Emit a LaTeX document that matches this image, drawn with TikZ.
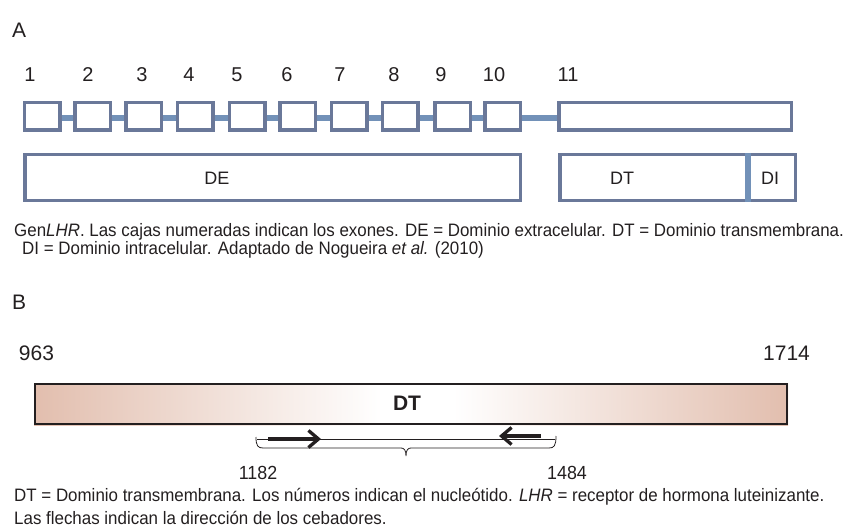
\documentclass[tikz,border=0pt]{standalone}
\usepackage{fontspec}
\setmainfont{Liberation Sans}
\newfontfamily\narrowfont[FakeStretch=0.94]{Liberation Sans}
\usetikzlibrary{arrows.meta,backgrounds}

\definecolor{exonedge}{HTML}{6A7899}
\definecolor{intronblue}{HTML}{7291B8}
\definecolor{inktext}{HTML}{231F20}
\definecolor{barpink}{HTML}{E2BEAE}

\begin{document}
\begin{tikzpicture}[x=1pt,y=-1pt,
  every node/.style={text=inktext, inner sep=0pt},
  exon/.style={draw=exonedge, line width=3.5pt, fill=white,
    minimum width=35.5pt, minimum height=27.5pt},
  domainbox/.style={draw=exonedge, line width=3.5pt, minimum height=45.5pt},
  intron/.style={draw=intronblue, line width=5.5pt},
  panel/.style={font=\fontsize{21}{24}\selectfont, anchor=west},
  exnum/.style={font=\fontsize{20}{23}\selectfont},
  domlabel/.style={font=\fontsize{18}{21}\selectfont},
  caption/.style={font=\narrowfont\fontsize{18}{21}\selectfont, anchor=west},
  posnum/.style={font=\fontsize{21}{24}\selectfont},
  narrownum/.style={font=\narrowfont\fontsize{19}{22}\selectfont},
  primer/.style={line width=3.3pt, draw=inktext},
  primertip/.style={-{Straight Barb[length=10pt,width=17pt]}},
]
\useasboundingbox (0,0) rectangle (849,532);

% ---------- Panel A: exon structure ----------
\node[panel] (labA) at (12,30) {A};

\foreach \i/\x in {1/42.2,2/92.5,3/143.5,4/195,5/247,6/297.5,7/349,8/400,9/452.5,10/502.5}{
  \node[exon] (e\i) at (\x,116.5) {};
}
\node[exon, minimum width=232.5pt] (e11) at (675,116.5) {};

\begin{scope}[on background layer]
  \foreach \a/\b in {1/2,2/3,3/4,4/5,5/6,6/7,7/8,8/9,9/10,10/11}{
    \draw[intron] ([yshift=-1.5pt]e\a.east) -- ([yshift=-1.5pt]e\b.west);
  }
\end{scope}

\foreach \i/\x in {1/30,2/88,3/142,4/189,5/237,6/287,7/340,8/394,9/441,10/494,11/568}{
  \node[exnum] (n\i) at (\x,75) {\i};
}

% domains
\node[domainbox, minimum width=495.5pt] (de) at (272.5,177.5) {};
\node[domlabel] (deL) at (217,178) {DE};
\node[domainbox, minimum width=235.5pt] (dtdi) at (677.5,177.5) {};
\coordinate (divT) at (748,153);
\coordinate (divB) at (748,202);
\draw[intron, line width=5.5pt] (divT) -- (divB);
\node[domlabel] (dtL) at (622,178) {DT};
\node[domlabel] (diL) at (770,178) {DI};

\node[caption] (capA1) at (14,232) {Gen\textit{LHR}. Las cajas numeradas indican los exones. DE = Dominio extracelular. DT = Dominio transmembrana.};
\node[caption] (capA2) at (22,250) {DI = Dominio intracelular. Adaptado de Nogueira \textit{et al.} (2010)};

% ---------- Panel B: transmembrane region ----------
\node[panel] (labB) at (12,302) {B};
\node[posnum] (p963) at (36.5,353) {963};
\node[posnum] (p1714) at (786.5,353) {1714};

\fill[left color=barpink, right color=white] (34,383) rectangle (382,425);
\fill[left color=white, right color=barpink] (453,383) rectangle (788,425);
\node[draw=inktext, line width=2pt, minimum width=752pt, minimum height=40pt] (bar) at (411,404) {};
\node[font=\bfseries\fontsize{21}{24}\selectfont] (dtB) at (407,403) {DT};

% amplicon with bracket
\coordinate (ampL) at (257,439);
\coordinate (ampR) at (555,439);
\draw[inktext, line width=0.8pt] (ampL) -- (ampR);
\coordinate (brL) at (256,437);
\coordinate (brR) at (556,436);
\coordinate (brTip) at (406,456);
\draw[inktext, line width=0.8pt]
  (brL) .. controls (256,446) and (258,448) .. (263,448) -- (401,448)
  .. controls (404,448) and (406,450) .. (brTip)
  (406,456) .. controls (406,450) and (408,448) .. (411,448) -- (549,448)
  .. controls (554,448) and (556,446) .. (brR);

% primers
\coordinate (fwdS) at (268,439);
\coordinate (fwdE) at (321,439);
\coordinate (revS) at (541,436);
\coordinate (revE) at (499,436);
\draw[primer, primertip] (fwdS) -- (fwdE);
\draw[primer, primertip] (revS) -- (revE);

\node[narrownum] (p1182) at (258,473) {1182};
\node[narrownum] (p1484) at (567,473) {1484};

\node[caption] (capB1) at (14,497) {DT = Dominio transmembrana. Los números indican el nucleótido. \textit{LHR} = receptor de hormona luteinizante.};
\node[caption] (capB2) at (14,518) {Las flechas indican la dirección de los cebadores.};
\end{tikzpicture}
\end{document}
